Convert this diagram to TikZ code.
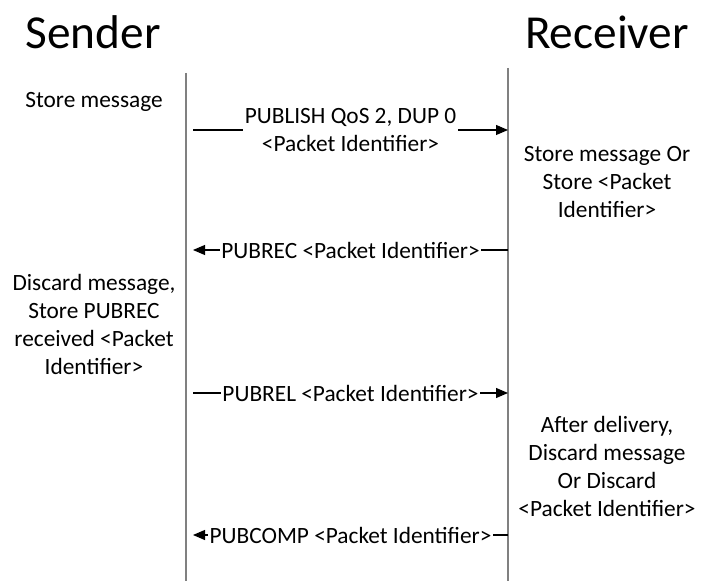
\documentclass[tikz,border=0pt]{standalone}
\usepackage{fontspec}
\setmainfont{Carlito}
\usepackage{xcolor}
\usetikzlibrary{arrows.meta,positioning}
\definecolor{lifeline}{HTML}{808080}
\tikzset{
  lane/.style={draw=lifeline,line width=1.2pt},
  msg/.style={draw=black,line width=0.8pt,-{Triangle[length=9pt,width=7.5pt]}},
  msglabel/.style={fill=white,inner xsep=1pt,inner ysep=0pt,align=center,font=\fontsize{17.5}{21}\selectfont},
  note/.style={align=center,inner sep=0pt,font=\fontsize{17.5}{21}\selectfont},
  actor/.style={inner sep=0pt,font=\fontsize{35.5}{40}\selectfont}
}

\begin{document}
\begin{tikzpicture}[x=0.75pt,y=-0.75pt]
\useasboundingbox (0,0) rectangle (704,581);

% parties
\node[actor] (sender) at (93,32) {Sender};
\node[actor] (receiver) at (607,32) {Receiver};

% lifelines
\coordinate (stop) at (186,73);
\coordinate (sbot) at (186,581);
\coordinate (rtop) at (508,68);
\coordinate (rbot) at (508,581);
\draw[lane] (stop) -- (sbot);
\draw[lane] (rtop) -- (rbot);

% messages
\coordinate (s1) at (193,130); \coordinate (r1) at (508,130);
\coordinate (s2) at (193,250); \coordinate (r2) at (508,250);
\coordinate (s3) at (193,393); \coordinate (r3) at (508,393);
\coordinate (s4) at (193,535); \coordinate (r4) at (508,535);
\draw[msg] (s1) -- node[msglabel] (publish) {PUBLISH QoS 2, DUP 0\\<Packet Identifier>} (r1);
\draw[msg] (r2) -- node[msglabel] (pubrec) {PUBREC <Packet Identifier>} (s2);
\draw[msg] (s3) -- node[msglabel] (pubrel) {PUBREL <Packet Identifier>} (r3);
\draw[msg] (r4) -- node[msglabel] (pubcomp) {PUBCOMP <Packet Identifier>} (s4);

% sender side
\node[note] (sstore) at (94,102) {Store message};
\node[note] (sdiscard) at (94,324) {Discard message,\\Store PUBREC\\received <Packet\\Identifier>};

% receiver side
\node[note] (rstore) at (607,182) {Store message Or\\Store <Packet\\Identifier>};
\node[note] (rdiscard) at (607,466) {After delivery,\\Discard message\\Or Discard\\<Packet Identifier>};
\end{tikzpicture}
\end{document}
